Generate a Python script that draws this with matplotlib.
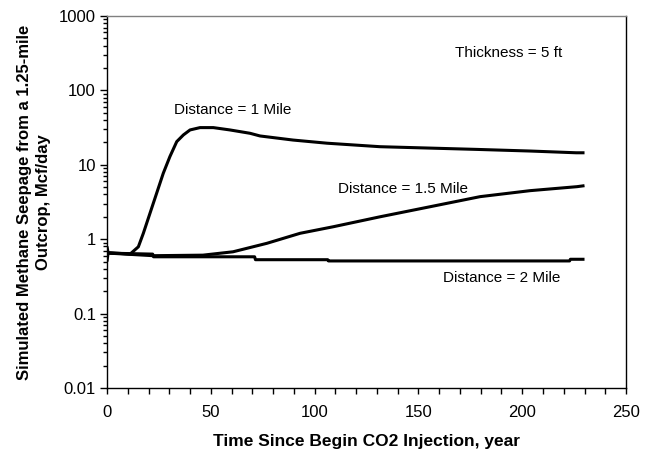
import numpy as np
import matplotlib.pyplot as plt
from matplotlib.ticker import LogLocator, NullFormatter, MultipleLocator

plt.rcParams['font.family'] = ['Liberation Sans', 'DejaVu Sans']

# seepage rates (Mcf/day) vs. years since CO2 injection began
t_1mile = [0, 0.5, 11.1, 15.1, 17.5, 20.7, 23.9, 27.1, 30.3, 33.6, 36.8, 40,
           44.8, 51.2, 59.2, 68.9, 73.7, 89.6, 106, 131.5, 178, 204, 226, 230]
q_1mile = [0.8, 0.66, 0.63, 0.79, 1.2, 2.23, 4.14, 7.69, 12.9, 20.5, 25.2, 29.4,
           31.6, 31.6, 29.4, 26.5, 24.4, 21.5, 19.5, 17.5, 16.1, 15.3, 14.5, 14.5]

t_15mile = [0, 0.5, 22.2, 46.2, 60.7, 77, 93, 109, 131.5, 155.6, 179.7, 203.8,
            226.4, 230]
q_15mile = [0.5, 0.65, 0.6, 0.61, 0.677, 0.88, 1.2, 1.47, 2.0, 2.73, 3.73, 4.49,
            5.08, 5.24]

t_2mile = [0, 22.0, 22.4, 71.1, 71.5, 106.3, 106.7, 222.8, 223.2, 230]
q_2mile = [0.65, 0.63, 0.58, 0.58, 0.53, 0.53, 0.51, 0.51, 0.537, 0.537]

fig = plt.figure(figsize=(6.45, 4.54), dpi=100)
ax = fig.add_axes([0.1659, 0.1454, 0.8047, 0.8194])

for t, q in [(t_1mile, q_1mile), (t_15mile, q_15mile), (t_2mile, q_2mile)]:
    ax.plot(t, q, color='black', lw=2.2, solid_capstyle='butt',
            solid_joinstyle='round')

ax.set_yscale('log')
ax.set_ylim(0.01, 1000)
ax.set_xlim(0, 250)

ax.xaxis.set_major_locator(MultipleLocator(50))
ax.xaxis.set_minor_locator(MultipleLocator(10))
ax.yaxis.set_minor_locator(LogLocator(base=10, subs=np.arange(2, 10), numticks=10))
ax.yaxis.set_minor_formatter(NullFormatter())
ax.set_yticks([0.01, 0.1, 1, 10, 100, 1000])
ax.set_yticklabels(['0.01', '0.1', '1', '10', '100', '1000'])

ax.tick_params(axis='both', which='both', direction='out', labelsize=12,
               width=1, color='black')
ax.tick_params(axis='y', which='major', length=5, pad=3)
ax.tick_params(axis='y', which='minor', length=3)
ax.tick_params(axis='x', which='both', length=4, pad=8)

for side in ['left', 'bottom', 'right']:
    ax.spines[side].set_color('black')
    ax.spines[side].set_linewidth(1.0)
ax.spines['top'].set_color('#808080')
ax.spines['top'].set_linewidth(1.0)

ax.set_xlabel('Time Since Begin CO2 Injection, year', fontsize=12.5,
              fontweight='bold', labelpad=10)
fig.text(34 / 645, 1 - 202 / 454,
         'Simulated Methane Seepage from a 1.25-mile\nOutcrop, Mcf/day',
         rotation=90, ha='center', va='center', fontsize=12,
         fontweight='bold', linespacing=1.3)

ax.text(32.3, 54.6, 'Distance = 1 Mile', fontsize=11, va='center')
ax.text(111.3, 4.73, 'Distance = 1.5 Mile', fontsize=11, va='center')
ax.text(161.8, 0.30, 'Distance = 2 Mile', fontsize=11, va='center')
ax.text(167.6, 318, 'Thickness = 5 ft', fontsize=11, va='center')

fig.savefig('out.png', dpi=100)
